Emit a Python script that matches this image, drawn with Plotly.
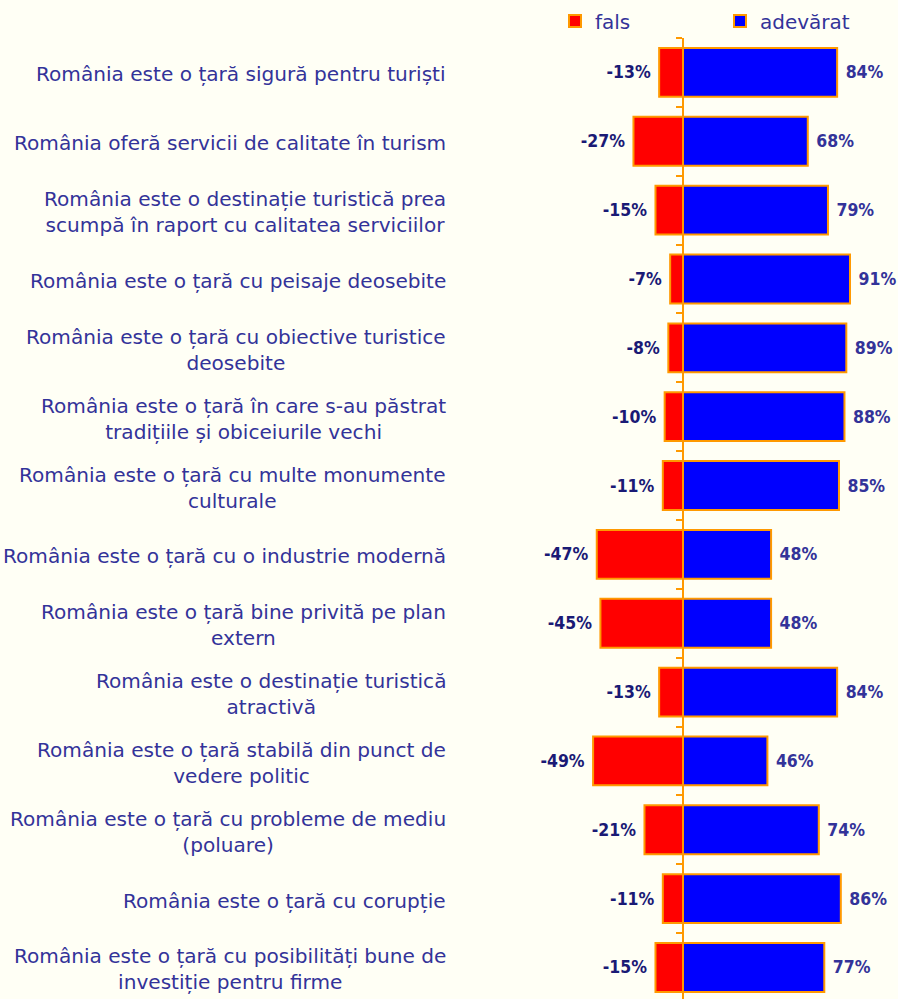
import plotly.graph_objects as go

categories = [
    "România este o țară sigură pentru turiști",
    "România oferă servicii de calitate în turism",
    "România este o destinație turistică prea<br>scumpă în raport cu calitatea serviciilor",
    "România este o țară cu peisaje deosebite",
    "România este o țară cu obiective turistice<br>deosebite",
    "România este o țară în care s-au păstrat<br>tradițiile și obiceiurile vechi",
    "România este o țară cu multe monumente<br>culturale",
    "România este o țară cu o industrie modernă",
    "România este o țară bine privită pe plan<br>extern",
    "România este o destinație turistică<br>atractivă",
    "România este o țară stabilă din punct de<br>vedere politic",
    "România este o țară cu probleme de mediu<br>(poluare)",
    "România este o țară cu corupție",
    "România este o țară cu posibilități bune de<br>investiție pentru firme",
]
fals = [-13, -27, -15, -7, -8, -10, -11, -47, -45, -13, -49, -21, -11, -15]
adevarat = [84, 68, 79, 91, 89, 88, 85, 48, 48, 84, 46, 74, 86, 77]
series_names = ["fals", "adevărat"]

ORANGE = "#FF9900"
LABEL = "#333399"
DARK = "#1A1A75"
BG = "#FFFFF5"
W, H = 898, 999
T = 38
zero_px = 683
px_per = 1.835
xmin = -zero_px / px_per
xmax = (W - zero_px) / px_per
band_px = 68.85

VALFONT = "DejaVu Sans Condensed, DejaVu Sans"

fig = go.Figure()
fig.add_trace(go.Bar(
    y=categories, x=fals, orientation="h", name=series_names[0],
    marker=dict(color="#FF0000", line=dict(color=ORANGE, width=2)),
    width=0.71, text=[f"{v}%" for v in fals], texttemplate="%{text}\u00a0",
    textposition="outside",
    textfont=dict(family=VALFONT, size=17.5, color=DARK, weight="bold"),
    constraintext="none", cliponaxis=False, hoverinfo="skip",
))
fig.add_trace(go.Bar(
    y=categories, x=adevarat, orientation="h", name=series_names[1],
    marker=dict(color="#0000FF", line=dict(color=ORANGE, width=2)),
    width=0.71, text=[f"{v}%" for v in adevarat], texttemplate="\u00a0%{text}",
    textposition="outside",
    textfont=dict(family=VALFONT, size=17.5, color=LABEL, weight="bold"),
    constraintext="none", cliponaxis=False, hoverinfo="skip",
))

for c in categories:
    fig.add_annotation(
        x=448 / W, xref="paper", y=c, yref="y", text=c, showarrow=False,
        xanchor="right", yanchor="middle", align="center", yshift=-2,
        font=dict(family="DejaVu Sans", size=20.1, color=LABEL),
    )

pos = (0 - xmin) / (xmax - xmin)
fig.update_layout(
    width=W, height=H, barmode="overlay",
    paper_bgcolor=BG, plot_bgcolor=BG,
    margin=dict(l=0, r=0, t=T, b=0, pad=0, autoexpand=False),
    showlegend=True,
    legend=dict(
        orientation="h", x=555 / W, xanchor="left", y=1 + (T - 21) / (H - T), yanchor="middle",
        font=dict(family="DejaVu Sans", size=20, color=LABEL),
        itemwidth=30, entrywidth=120, bgcolor="rgba(0,0,0,0)", traceorder="normal",
    ),
    xaxis=dict(range=[xmin, xmax], visible=False, fixedrange=True),
    yaxis=dict(
        type="category", categoryorder="array", categoryarray=categories,
        range=[-0.5 + (H - T) / band_px, -0.5],
        anchor="free", position=pos,
        showline=True, linecolor=ORANGE, linewidth=2,
        ticks="outside", tickson="boundaries", ticklen=6, tickcolor=ORANGE, tickwidth=2,
        showticklabels=False, showgrid=False, zeroline=False, fixedrange=True,
    ),
)

fig.write_html(
    "out.html",
    config={"displayModeBar": False},
    post_script="document.body.style.margin='0';document.body.style.overflow='hidden';",
)
